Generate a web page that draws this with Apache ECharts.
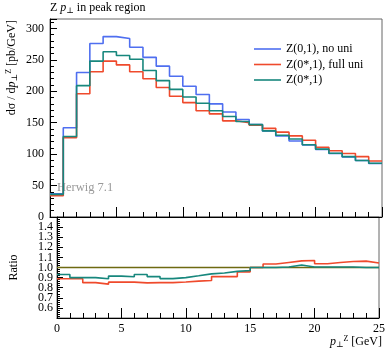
<!DOCTYPE html>
<html>
<head>
<meta charset="utf-8">
<script src="https://cdn.jsdelivr.net/npm/echarts@6.0.0/dist/echarts.min.js"></script>
<style>
  html, body { margin: 0; padding: 0; background: #fff; }
  #chart { width: 388px; height: 349px; }
</style>
</head>
<body>
<div id="chart"></div>
<script>
// bin edges of the pT histogram (GeV)
var binEdges = [0, 1, 2, 3, 4, 5, 6, 7, 8, 9, 10, 11, 12, 13, 14, 15, 16, 17, 18, 19, 20, 21, 22, 23, 24, 25];

// dsigma/dpT per bin [pb/GeV]
var noUni = [37, 142, 230, 276, 287, 284, 270, 254, 240, 224, 208, 195, 180, 167, 155, 147, 137, 129, 121, 114.5, 107.5, 101, 95.5, 90, 85];
var fullUni = [34, 126, 196, 231, 248, 242, 231, 220, 206, 192, 182, 169, 164, 153, 150, 146, 141, 135, 129, 122, 111, 105.5, 101, 96, 89];
var starOne = [36, 128, 209, 248, 263, 257, 251, 233, 217, 203, 191, 181, 169, 160, 152, 147, 137, 130, 124, 115, 108, 101.5, 96, 90, 85.5];

// ratios to Z(0,1), no uni
var ratioRef = [1, 1, 1, 1, 1, 1, 1, 1, 1, 1, 1, 1, 1, 1, 1, 1, 1, 1, 1, 1, 1, 1, 1, 1, 1];
var ratioFullUni = [0.888, 0.888, 0.85, 0.835, 0.855, 0.855, 0.848, 0.85, 0.85, 0.857, 0.865, 0.872, 0.91, 0.91, 0.957, 1.0, 1.034, 1.05, 1.066, 1.07, 1.037, 1.05, 1.06, 1.063, 1.045];
var ratioStarOne = [0.93, 0.90, 0.90, 0.888, 0.915, 0.908, 0.93, 0.91, 0.89, 0.90, 0.918, 0.937, 0.945, 0.962, 0.97, 1.0, 1.0, 1.005, 1.024, 1.005, 1.005, 1.005, 1.005, 1.0, 1.0];

var names = ['Z(0,1), no uni', 'Z(0*,1), full uni', 'Z(0*,1)'];
var colors = ['#4f6ff0', '#ef4a2c', '#17877d'];
var refColor = '#6e6a12';

var FONT = '"Liberation Serif", "DejaVu Serif", serif';

function stepData(vals) {
    var pts = vals.map(function (v, i) { return [binEdges[i], v]; });
    pts.push([binEdges[vals.length], vals[vals.length - 1]]);
    return pts;
}

function histSeries(name, vals, color, idx) {
    return {
        name: name,
        type: 'line',
        xAxisIndex: idx,
        yAxisIndex: idx,
        step: 'end',
        symbol: 'none',
        silent: true,
        animation: false,
        lineStyle: { color: color, width: 1.6 },
        itemStyle: { color: color },
        data: stepData(vals)
    };
}

var rich = {
    i: { fontFamily: FONT, fontStyle: 'italic', fontSize: 12, color: '#000' },
    sub: { fontFamily: FONT, fontSize: 8, color: '#000', verticalAlign: 'bottom', padding: [6, 0, 0, 0] },
    sup: { fontFamily: FONT, fontSize: 8, color: '#000', verticalAlign: 'top', padding: [0, 0, 6, 0] },
    n: { fontFamily: FONT, fontSize: 12, color: '#000' }
};

function xAxisCfg(idx, showLabels) {
    return {
        type: 'value',
        gridIndex: idx,
        min: 0,
        max: 25,
        interval: 5,
        axisLine: { show: true, onZero: false, lineStyle: { color: '#000', width: 1 } },
        axisTick: { show: true, inside: true, length: 10, lineStyle: { color: '#000' } },
        minorTick: { show: true, splitNumber: 5, length: 5, lineStyle: { color: '#000' } },
        splitLine: { show: false },
        minorSplitLine: { show: false },
        axisLabel: { show: showLabels, color: '#000', fontFamily: FONT, fontSize: 12, margin: 5 }
    };
}

var dom = document.getElementById('chart');
var chart = echarts.init(dom, null, { renderer: 'canvas' });

var option = {
    animation: false,
    backgroundColor: '#fff',
    title: {
        text: 'Z {i|p}{sub|⊥} in peak region',
        left: 50,
        top: 1,
        padding: 0,
        textStyle: { fontFamily: FONT, fontSize: 12, fontWeight: 'normal', color: '#000', rich: rich }
    },
    legend: {
        data: names,
        orient: 'vertical',
        left: 249,
        top: 37,
        icon: 'rect',
        itemWidth: 27,
        itemHeight: 1.6,
        itemGap: 1.5,
        textStyle: { fontFamily: FONT, fontSize: 12, lineHeight: 14, color: '#000' }
    },
    grid: [
        { left: 50, right: 6, top: 19, height: 198, show: true, borderColor: '#666', borderWidth: 1 },
        { left: 50, right: 6, top: 217, height: 101, show: true, borderColor: '#666', borderWidth: 1 }
    ],
    xAxis: [xAxisCfg(0, false), xAxisCfg(1, true)],
    yAxis: [
        {
            type: 'value',
            gridIndex: 0,
            min: 0,
            max: 315,
            interval: 50,
            axisLine: { show: true, lineStyle: { color: '#000' } },
            axisTick: { show: true, inside: true, length: 7, lineStyle: { color: '#000' } },
            minorTick: { show: true, splitNumber: 5, length: 4, lineStyle: { color: '#000' } },
            splitLine: { show: false },
            axisLabel: { showMaxLabel: false, color: '#000', fontFamily: FONT, fontSize: 12, margin: 6 }
        },
        {
            type: 'value',
            gridIndex: 1,
            min: 0.5,
            max: 1.5,
            interval: 0.1,
            name: 'Ratio',
            nameLocation: 'middle',
            nameGap: 37,
            nameTextStyle: { fontFamily: FONT, fontSize: 12, color: '#000' },
            axisLine: { show: true, lineStyle: { color: '#000' } },
            axisTick: { show: true, inside: true, length: 6, lineStyle: { color: '#000' } },
            minorTick: { show: true, splitNumber: 5, length: 3, lineStyle: { color: '#000' } },
            splitLine: { show: false },
            axisLabel: {
                showMaxLabel: false,
                color: '#000',
                fontFamily: FONT,
                fontSize: 12,
                margin: 4,
                formatter: function (v) { return v.toFixed(1); }
            }
        }
    ],
    graphic: [
        {
            type: 'text',
            x: 12,
            y: 20,
            rotation: Math.PI / 2,
            silent: true,
            style: {
                text: 'd{n|σ} / d{i|p}{sub|⊥}{sup|Z} [pb/GeV]',
                align: 'right',
                verticalAlign: 'middle',
                fill: '#000',
                fontFamily: FONT,
                fontSize: 12,
                rich: rich
            }
        },
        {
            type: 'text',
            left: 57,
            top: 181,
            silent: true,
            style: { text: 'Herwig 7.1', fill: '#999', fontFamily: FONT, fontSize: 12.5 }
        },
        {
            type: 'text',
            right: 6,
            top: 335,
            silent: true,
            style: { text: '{i|p}{sub|⊥}{sup|Z} {n|[GeV]}', fill: '#000', fontFamily: FONT, fontSize: 12, rich: rich }
        }
    ],
    series: [
        histSeries(names[0], noUni, colors[0], 0),
        histSeries(names[1], fullUni, colors[1], 0),
        histSeries(names[2], starOne, colors[2], 0),
        histSeries('ratio ref', ratioRef, refColor, 1),
        histSeries('ratio full uni', ratioFullUni, colors[1], 1),
        histSeries('ratio star', ratioStarOne, colors[2], 1)
    ]
};

if (option && typeof option === 'object') {
    chart.setOption(option);
}
window.addEventListener('resize', chart.resize);
</script>
</body>
</html>
